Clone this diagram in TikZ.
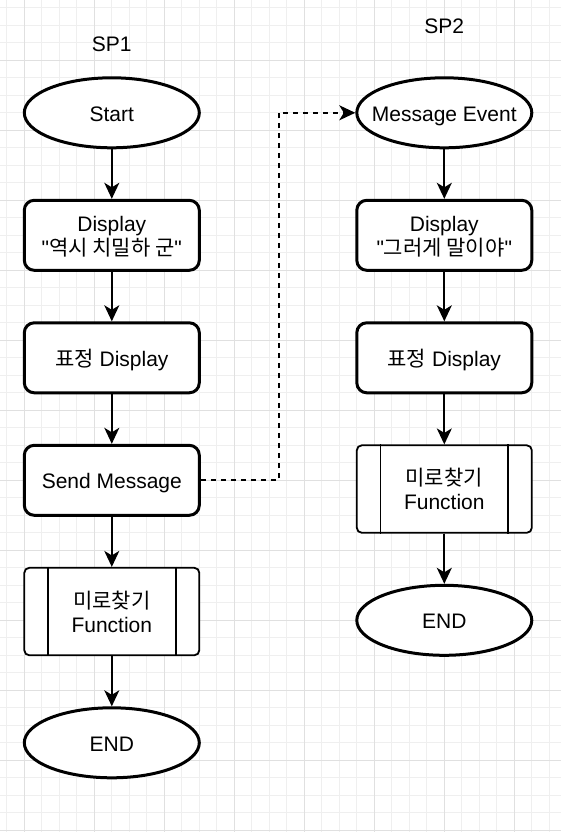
\documentclass[tikz,border=0pt]{standalone}
\usepackage{fontspec}
\setmainfont{Liberation Sans}[Ligatures=TeXOff]
\newfontfamily\kr{Noto Sans CJK KR}
\usetikzlibrary{shapes.geometric,arrows.meta,calc}
\definecolor{gridminor}{HTML}{EFEFEF}
\definecolor{gridmajor}{HTML}{E0E0E0}
\tikzset{
  lbl/.style={font=\fontsize{21}{24}\selectfont, align=center, inner sep=0pt},
  oneline/.style={text height=17pt, text depth=0pt},
  twoline/.style={text height=40pt, text depth=0pt},
  twolinef/.style={text height=41pt, text depth=0pt},
  term/.style={ellipse, draw, line width=3pt, minimum width=175pt, minimum height=70pt, inner sep=0pt, font=\fontsize{21}{24}\selectfont, align=center, fill=white, oneline},
  stepbox/.style={rectangle, rounded corners=10pt, draw, line width=3pt, minimum width=175pt, minimum height=70pt, inner sep=0pt, font=\fontsize{21}{24}\selectfont, align=center, fill=white},
  procbox/.style={rectangle, rounded corners=5pt, draw, line width=1.8pt, minimum width=175pt, minimum height=87.5pt, inner sep=0pt, font=\fontsize{21}{24}\selectfont, align=center, fill=white, twolinef},
  arr/.style={line width=1.8pt, -{Stealth[length=16pt,width=15pt,inset=4.5pt]}},
  dasharr/.style={line width=1.8pt, dash pattern=on 5pt off 5pt, -{Stealth[length=16pt,width=15pt,inset=4.5pt]}},
  inner/.style={line width=1.8pt}
}
\begin{document}
\begin{tikzpicture}[x=1pt,y=-1pt]
\useasboundingbox (0,0) rectangle (561,832);
\fill[white] (0,0) rectangle (561,832);
% grid
\foreach \i in {0,...,32} {\draw[gridminor, line width=1pt] (6.8+17.5*\i,0) -- (6.8+17.5*\i,832);}
\foreach \i in {0,...,47} {\draw[gridminor, line width=1pt] (0,7.8+17.5*\i) -- (561,7.8+17.5*\i);}
\foreach \i in {0,...,7} {\draw[gridmajor, line width=1pt] (24.3+70*\i,0) -- (24.3+70*\i,832);}
\foreach \i in {0,...,11} {\draw[gridmajor, line width=1pt] (0,60.3+70*\i) -- (561,60.3+70*\i);}

% labels
\node[lbl] (sp1) at (111.8,44) {SP1};
\node[lbl] (sp2) at (444.3,26) {SP2};

% left column
\node[term] (start) at (111.8,112.8) {\makebox[0pt]{Start}};
\node[stepbox, twoline] (d1) at (111.8,235.3) {Display\\"{\kr 역시 치밀하 군}"};
\node[stepbox, oneline] (e1) at (111.8,357.8) {{\kr 표정} Display};
\node[stepbox, oneline] (send) at (111.8,480.3) {Send Message};
\node[procbox] (f1) at (111.8,611.55) {{\kr 미로찾기}\\Function};
\node[term] (end1) at (111.8,742.8) {\makebox[0pt]{END}};

% right column
\node[term] (msg) at (444.3,112.8) {\makebox[0pt]{Message Event}};
\node[stepbox, twoline] (d2) at (444.3,235.3) {Display\\"{\kr 그러게 말이야}"};
\node[stepbox, oneline] (e2) at (444.3,357.8) {{\kr 표정} Display};
\node[procbox] (f2) at (444.3,489.05) {{\kr 미로찾기}\\Function};
\node[term] (end2) at (444.3,620.3) {\makebox[0pt]{END}};

% process inner lines
\foreach \n in {f1,f2} {
  \draw[inner] ([xshift=24.5pt]\n.north west) -- ([xshift=24.5pt]\n.south west);
  \draw[inner] ([xshift=-24.5pt]\n.north east) -- ([xshift=-24.5pt]\n.south east);
}

% connectors
\draw[arr] (start) -- (d1);
\draw[arr] (d1) -- (e1);
\draw[arr] (e1) -- (send);
\draw[arr] (send) -- (f1);
\draw[arr] (f1) -- (end1);
\draw[arr] (msg) -- (d2);
\draw[arr] (d2) -- (e2);
\draw[arr] (e2) -- (f2);
\draw[arr] (f2) -- (end2);

\coordinate (bx) at (278.8,0);
\draw[dasharr] (send.east) -- (send.east -| bx) -- (msg.west -| bx) -- (msg.west);
\end{tikzpicture}
\end{document}
